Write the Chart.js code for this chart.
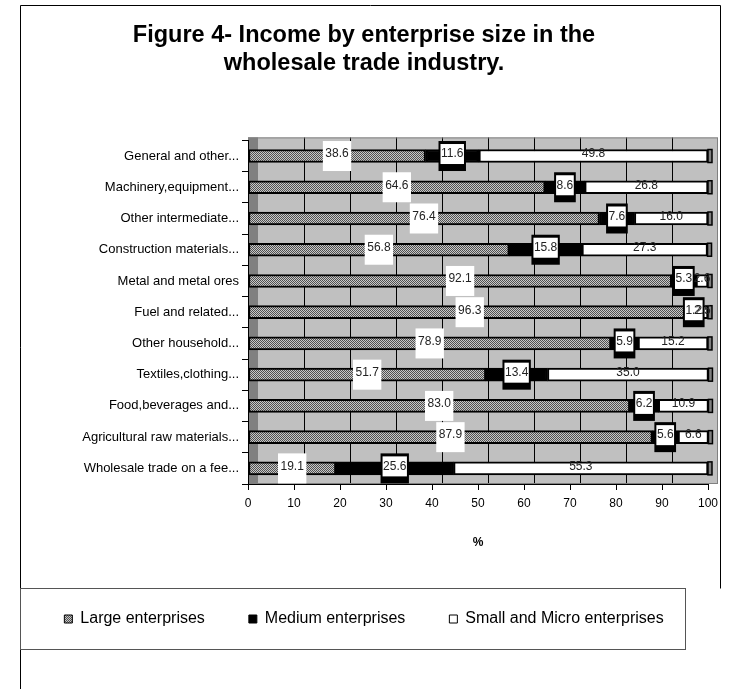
<!DOCTYPE html>
<html>
<head>
<meta charset="utf-8">
<script src="https://cdn.jsdelivr.net/npm/chart.js@4.4.0/dist/chart.umd.min.js"></script>
<style>
  html, body { margin: 0; padding: 0; background: #fff; }
  #wrap { width: 731px; height: 689px; position: relative; }
</style>
</head>
<body>
<div id="wrap"><canvas id="chartRenda" width="731" height="689"></canvas></div>
<script>
// Categorias (de cima para baixo) e percentuais por porte
const categorias = [
    'General and other...',
    'Machinery,equipment...',
    'Other intermediate...',
    'Construction materials...',
    'Metal and metal ores',
    'Fuel and related...',
    'Other household...',
    'Textiles,clothing...',
    'Food,beverages and...',
    'Agricultural raw materials...',
    'Wholesale trade on a fee...'
];
const grandes  = [38.6, 64.6, 76.4, 56.8, 92.1, 96.3, 78.9, 51.7, 83.0, 87.9, 19.1];
const medias   = [11.6, 8.6, 7.6, 15.8, 5.3, 1.2, 5.9, 13.4, 6.2, 5.6, 25.6];
const pequenas = [49.8, 26.8, 16.0, 27.3, 2.6, 2.5, 15.2, 35.0, 10.9, 6.6, 55.3];
const nomesSeries = ['Large enterprises', 'Medium enterprises', 'Small and Micro enterprises'];
const titulo = ['Figure 4- Income by enterprise size in the', 'wholesale trade industry.'];

const canvas = document.getElementById('chartRenda');
const ctx = canvas.getContext('2d');

// textura quadriculada das grandes empresas
function criarPadrao() {
    const c = document.createElement('canvas');
    c.width = 2; c.height = 2;
    const g = c.getContext('2d');
    g.fillStyle = '#c8c8c8';
    g.fillRect(0, 0, 2, 2);
    g.fillStyle = '#505050';
    g.fillRect(0, 0, 1, 1);
    g.fillRect(1, 1, 1, 1);
    return ctx.createPattern(c, 'repeat');
}
const padrao = criarPadrao();

const PROF = 10; // profundidade do efeito 3D

// fundo cinza, parede esquerda e linhas de grade deslocadas
const fundo3d = {
    id: 'fundo3d',
    beforeDraw(chart) {
        const { ctx, chartArea: a, scales: { x } } = chart;
        const topo = a.top - 3;
        ctx.save();
        ctx.fillStyle = '#c0c0c0';
        ctx.fillRect(a.left, topo, a.right - a.left + PROF, a.bottom - topo);
        ctx.fillStyle = '#808080';
        ctx.fillRect(a.left, topo, PROF, a.bottom - topo);
        ctx.strokeStyle = '#000';
        ctx.lineWidth = 1;
        for (let v = 10; v <= 90; v += 10) {
            const px = Math.round(x.getPixelForValue(v) + PROF) + 0.5;
            ctx.beginPath();
            ctx.moveTo(px, topo);
            ctx.lineTo(px, a.bottom);
            ctx.stroke();
        }
        ctx.strokeStyle = '#808080';
        ctx.strokeRect(a.left + 0.5, topo + 0.5, a.right - a.left + PROF - 1, a.bottom - topo - 1);
        ctx.restore();
    }
};

// rótulos de dados e tampa lateral das barras
const rotulos = {
    id: 'rotulos',
    afterDatasetsDraw(chart) {
        const { ctx } = chart;
        ctx.save();
        // tampa 3D no fim de cada barra
        chart.getDatasetMeta(2).data.forEach(bar => {
            const h = bar.height;
            ctx.fillStyle = '#808080';
            ctx.fillRect(bar.x, bar.y - h / 2, 4, h);
            ctx.strokeStyle = '#000';
            ctx.lineWidth = 1.5;
            ctx.strokeRect(bar.x, bar.y - h / 2, 4, h);
        });

        ctx.font = '12px Arial, "Liberation Sans", sans-serif';
        ctx.textAlign = 'center';
        ctx.textBaseline = 'middle';
        chart.data.datasets.forEach((ds, i) => {
            const meta = chart.getDatasetMeta(i);
            meta.data.forEach((bar, j) => {
                const cx = (bar.x + bar.base) / 2;
                const cy = bar.y;
                const txt = ds.data[j].toFixed(1);
                const tw = ctx.measureText(txt).width;
                if (i === 0) {
                    ctx.fillStyle = '#fff';
                    ctx.fillRect(cx - tw / 2 - 2.5, cy - 15, tw + 5, 30);
                } else if (i === 1) {
                    ctx.fillStyle = '#000';
                    ctx.fillRect(cx - tw / 2 - 2.5, cy - 15, tw + 5, 30);
                    ctx.fillStyle = '#fff';
                    ctx.fillRect(cx - tw / 2 - 0.5, cy - 12, tw + 1, 20);
                }
                ctx.fillStyle = '#222';
                ctx.fillText(txt, cx, cy - 2);
            });
        });
        ctx.restore();
    }
};

// moldura externa e caixa da legenda
const moldura = {
    id: 'moldura',
    afterDraw(chart) {
        const { ctx } = chart;
        const lg = chart.legend;
        const cy = lg.legendHitBoxes.length ? lg.legendHitBoxes[0].top + lg.legendHitBoxes[0].height / 2 : 619;
        ctx.save();
        ctx.strokeStyle = '#000';
        ctx.lineWidth = 1;
        ctx.beginPath();
        ctx.moveTo(20.5, 689);
        ctx.lineTo(20.5, 5.5);
        ctx.lineTo(720.5, 5.5);
        ctx.lineTo(720.5, Math.round(cy - 31) + 0.5);
        ctx.stroke();
        ctx.strokeStyle = '#555';
        ctx.strokeRect(20.5, Math.round(cy - 31) + 0.5, 665, 61);
        ctx.restore();
    }
};

const serieBase = { borderColor: '#000', borderWidth: 2, borderSkipped: false, barThickness: 13 };

new Chart(ctx, {
    type: 'bar',
    data: {
        labels: categorias,
        datasets: [
            Object.assign({ label: nomesSeries[0], data: grandes, backgroundColor: padrao }, serieBase),
            Object.assign({ label: nomesSeries[1], data: medias, backgroundColor: '#000' }, serieBase),
            Object.assign({ label: nomesSeries[2], data: pequenas, backgroundColor: '#fff' }, serieBase)
        ]
    },
    options: {
        indexAxis: 'y',
        responsive: false,
        animation: false,
        devicePixelRatio: 1,
        layout: { padding: { left: 20, right: 23, top: 10, bottom: 52 } },
        scales: {
            x: {
                stacked: true,
                min: 0,
                max: 100,
                ticks: { stepSize: 10, color: '#000', font: { size: 12, family: 'Arial' }, padding: 6 },
                grid: { drawOnChartArea: false, drawTicks: true, tickLength: 6, color: '#000' },
                border: { display: true, color: '#000' },
                title: { display: true, text: '%', color: '#000', font: { size: 12, weight: 'bold', family: 'Arial' }, padding: { top: 0, bottom: 17 } },
                afterFit: s => { s.height = 83; }
            },
            y: {
                stacked: true,
                ticks: { color: '#000', font: { size: 13, family: 'Arial' }, padding: 3, autoSkip: false },
                grid: { drawOnChartArea: false, drawTicks: true, tickLength: 6, color: '#000', offset: true },
                border: { display: true, color: '#000' },
                afterFit: s => { s.width = 228; }
            }
        },
        plugins: {
            title: {
                display: true,
                text: titulo,
                color: '#000',
                font: { size: 23.5, weight: 'bold', family: 'Arial', lineHeight: 1.2 },
                padding: { top: 11, bottom: 63 }
            },
            legend: {
                position: 'bottom',
                labels: {
                    color: '#000',
                    font: { size: 16, family: 'Arial' },
                    boxWidth: 8,
                    boxHeight: 8,
                    padding: 44,
                    generateLabels(chart) {
                        const itens = Chart.defaults.plugins.legend.labels.generateLabels(chart);
                        itens.forEach(it => { it.lineWidth = 1; it.strokeStyle = '#000'; });
                        return itens;
                    }
                }
            },
            tooltip: { enabled: false }
        }
    },
    plugins: [fundo3d, rotulos, moldura]
});
</script>
</body>
</html>
